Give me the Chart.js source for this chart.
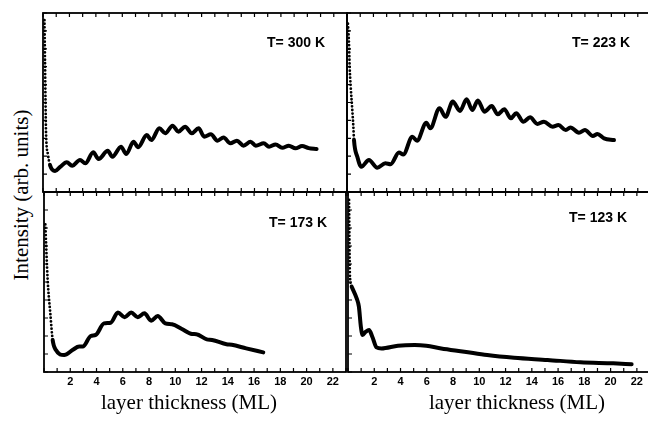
<!DOCTYPE html>
<html>
<head>
<meta charset="utf-8">
<script src="https://cdn.jsdelivr.net/npm/chart.js@4.4.1/dist/chart.umd.min.js"></script>
<style>
  body { margin: 0; background: #fff; }
  #wrap { position: relative; width: 648px; height: 422px; overflow: hidden; }
  canvas { position: absolute; }
  .title {
    position: absolute;
    font-family: "Liberation Serif", "DejaVu Serif", serif;
    font-size: 21px;
    color: #000;
    white-space: nowrap;
    transform: translate(-50%, -50%);
  }
</style>
</head>
<body>
<div id="wrap">
  <canvas id="c300" width="308" height="183" style="left:41px;top:11px"></canvas>
  <canvas id="c223" width="308" height="183" style="left:345px;top:11px"></canvas>
  <canvas id="c173" width="308" height="204" style="left:41px;top:190px"></canvas>
  <canvas id="c123" width="308" height="204" style="left:345px;top:190px"></canvas>
  <div class="title" style="left:21px;top:195px;transform:translate(-50%,-50%) rotate(-90deg)">Intensity (arb. units)</div>
  <div class="title" style="left:189px;top:402px">layer thickness (ML)</div>
  <div class="title" style="left:517px;top:402px">layer thickness (ML)</div>
</div>
<script>
// layer thickness (ML) / intensity (arb. units)
const x300 = [0.11, 0.15, 0.19, 0.23, 0.38, 0.53, 0.91, 1.3, 1.8, 2.2, 2.8, 3.2, 3.8, 4.2, 4.9, 5.25, 5.9, 6.3, 6.85, 7.2, 7.85, 8.2, 8.8, 9.25, 9.8, 10.25, 10.75, 11.25, 11.77, 12.2, 12.7, 13.2, 13.66, 14.17, 14.67, 15.17, 15.7, 16.1, 16.7, 17.1, 17.6, 18.1, 18.6, 19.1, 19.6, 20.1, 20.7];
const y300 = [96, 74, 51, 33, 20.7, 15, 11.7, 14, 16.6, 14.7, 17.9, 16, 22.2, 18.4, 23, 19.7, 25.3, 21.2, 28.1, 25, 31.8, 29, 35.6, 32.8, 37, 33.7, 36.5, 32.8, 35.6, 30.9, 32.2, 28.7, 30.5, 27.2, 28.7, 25.9, 28.1, 25.9, 27.2, 25.3, 26.6, 24.7, 25.9, 24.4, 25.7, 24.5, 24];

const x223 = [0.07, 0.15, 0.2, 0.28, 0.4, 0.48, 0.53, 0.78, 1.08, 1.66, 2.29, 2.9, 3.3, 3.93, 4.26, 4.94, 5.3, 6.0, 6.3, 7.0, 7.46, 8.0, 8.55, 9.05, 9.48, 9.9, 10.4, 10.95, 11.4, 11.9, 12.4, 12.8, 13.35, 13.85, 14.4, 14.9, 15.55, 16.0, 16.55, 16.9, 17.55, 18.0, 18.6, 18.95, 19.45, 20.2];
const y223 = [94, 83, 70, 58.8, 45.8, 36.5, 29, 19.7, 14.1, 17.9, 13.6, 16, 15.5, 22, 21, 30.9, 28.7, 38.7, 35.6, 46.8, 42, 50.5, 45.3, 51.8, 45.8, 51.1, 44.9, 48, 43.4, 46.2, 41.2, 44, 39.3, 41.7, 38, 39.3, 36.5, 37.4, 34.6, 36.1, 33.1, 34.6, 31.3, 32.4, 30, 29];

const x173 = [0.1, 0.28, 0.48, 0.66, 0.91, 1.54, 2.17, 2.68, 2.95, 3.56, 3.94, 4.57, 5.08, 5.63, 6.14, 6.64, 7.14, 7.65, 8.16, 8.66, 9.24, 9.75, 10.5, 11.27, 11.6, 12.4, 12.8, 13.9, 14.3, 15.4, 16.7];
const y173 = [82, 51, 32.6, 17.8, 12.2, 9.4, 12.2, 14.1, 14.1, 20, 20.6, 27, 27.4, 33, 30.4, 33, 30.4, 32.6, 28.5, 31.1, 27, 26.5, 23.9, 21.1, 21, 18.1, 17.8, 15.4, 15.1, 13.1, 10.9];

const x123 = [0.08, 0.1, 0.12, 0.15, 0.28, 0.66, 0.83, 0.98, 1.11, 1.36, 1.6, 1.85, 2.17, 2.55, 3.8, 5.08, 5.96, 7.1, 8.86, 10.6, 12.65, 15.2, 17.7, 20.2, 21.6];
const y123 = [95.6, 80, 65, 53, 47.4, 40.9, 36.3, 25.2, 20.6, 22.4, 23.3, 19.6, 13.7, 13.1, 14.6, 15, 14.6, 13.1, 11.3, 9.4, 7.9, 6.7, 5.4, 4.8, 4.3];

const xTickLabels = [2, 4, 6, 8, 10, 12, 14, 16, 18, 20, 22];

// frame with inward ticks + temperature label
const frame = {
  id: "frame",
  afterDatasetsDraw(chart, args, opts) {
    const { ctx, chartArea: a, scales: { x, y } } = chart;
    ctx.save();
    ctx.strokeStyle = "#000";
    ctx.lineWidth = 1.8;
    ctx.strokeRect(a.left, a.top, a.right - a.left, a.bottom - a.top);
    ctx.lineWidth = 1.2;
    ctx.beginPath();
    x.ticks.forEach((t) => {
      const px = x.getPixelForValue(t.value);
      ctx.moveTo(px, a.top);
      ctx.lineTo(px, a.top + 4);
      ctx.moveTo(px, a.bottom);
      ctx.lineTo(px, a.bottom - 4);
    });
    y.ticks.forEach((t) => {
      const py = y.getPixelForValue(t.value);
      ctx.moveTo(a.left, py);
      ctx.lineTo(a.left + 4, py);
    });
    ctx.stroke();
    ctx.fillStyle = "#000";
    ctx.font = "bold 14px 'Liberation Sans', Arial, sans-serif";
    ctx.textAlign = "right";
    ctx.textBaseline = "middle";
    ctx.fillText(opts.label, a.right - opts.dx, a.top + opts.dy);
    ctx.restore();
  },
};

function renderPanel(id, xs, ys, label, dotN, dx, dy, showLabels) {
  const data = xs.map((v, i) => ({ x: v, y: ys[i] }));
  new Chart(document.getElementById(id), {
    type: "line",
    data: {
      datasets: [
        {
          data: data,
          borderColor: "#000",
          borderWidth: 4,
          borderCapStyle: "round",
          borderJoinStyle: "round",
          pointRadius: 0,
          cubicInterpolationMode: "monotone",
          segment: {
            borderDash: (c) => (c.p1DataIndex <= dotN ? [0, 3.6] : undefined),
            borderWidth: (c) => (c.p1DataIndex <= dotN ? 2.8 : undefined),
          },
        },
      ],
    },
    options: {
      responsive: false,
      animation: false,
      layout: { padding: { left: 2, right: 2, top: 2, bottom: 2 } },
      plugins: {
        legend: { display: false },
        tooltip: { enabled: false },
        frame: { label: label, dx: dx, dy: dy },
      },
      scales: {
        x: {
          type: "linear",
          min: 0,
          max: 23,
          grid: { display: false, drawTicks: false },
          border: { display: false },
          ticks: {
            display: showLabels,
            stepSize: 1,
            autoSkip: false,
            maxRotation: 0,
            padding: 3,
            color: "#000",
            font: { family: "'Liberation Sans', Arial, sans-serif", size: 11, weight: "bold" },
            callback: (v) => (xTickLabels.includes(v) ? String(v) : ""),
          },
          afterFit: (s) => {
            s.height = showLabels ? 20 : 0;
          },
        },
        y: {
          min: 0,
          max: 100,
          grid: { display: false, drawTicks: false },
          border: { display: false },
          ticks: { display: false, stepSize: 10 },
          afterFit: (s) => {
            s.width = 0;
          },
        },
      },
    },
    plugins: [frame],
  });
}

renderPanel("c300", x300, y300, "T= 300 K", 5, 22, 30, false);
renderPanel("c223", x223, y223, "T= 223 K", 6, 21, 30, false);
renderPanel("c173", x173, y173, "T= 173 K", 3, 19, 31, true);
renderPanel("c123", x123, y123, "T= 123 K", 4, 23, 26, true);
</script>
</body>
</html>
